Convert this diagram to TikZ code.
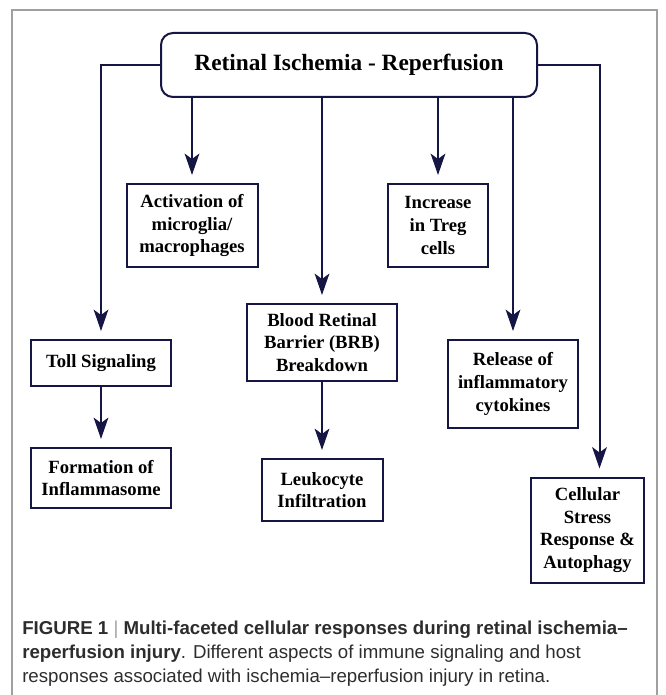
\documentclass[tikz,border=0pt]{standalone}
\usepackage{fontspec}
\setmainfont{Liberation Serif}
\newfontfamily\capfont{Liberation Sans}
\usetikzlibrary{arrows.meta}
\definecolor{navy}{RGB}{22,22,68}
\definecolor{framegray}{RGB}{160,160,160}
\definecolor{captext}{RGB}{45,45,45}
\tikzset{
    box/.style={draw=navy,line width=1.5pt,align=center,inner sep=0pt,
        font=\bfseries\fontsize{14}{17}\selectfont},
    link/.style={draw=navy,line width=1.5pt,
        -{Stealth[length=16pt,width=11pt,inset=4pt]},shorten >=6pt},
    capline/.style={anchor=base west,inner sep=0pt,text=captext,
        font=\capfont\fontsize{14}{17}\selectfont}
}
\begin{document}
\begin{tikzpicture}[x=0.75pt,y=-0.75pt]
    \useasboundingbox (0,0) rectangle (665,695);
    \draw[framegray,line width=1.1pt] (12,695) -- (12,10) -- (657,10) -- (657,695);
    % boxes
    \node[box,rounded corners=9pt,minimum width=376*0.75pt,minimum height=64*0.75pt,
        font=\bfseries\fontsize{17.5}{21}\selectfont] (root) at (349,65) {Retinal Ischemia - Reperfusion};
    \node[box,minimum width=131*0.75pt,minimum height=83*0.75pt] (act) at (192,225.5) {Activation of\\microglia/\\macrophages};
    \node[box,minimum width=100*0.75pt,minimum height=83*0.75pt] (treg) at (438,225.5) {Increase\\in Treg\\cells};
    \node[box,minimum width=150*0.75pt,minimum height=77*0.75pt] (brb) at (322,342.5) {Blood Retinal\\Barrier (BRB)\\Breakdown};
    \node[box,minimum width=130*0.75pt,minimum height=88*0.75pt] (rel) at (513,384) {Release of\\inflammatory\\cytokines};
    \node[box,minimum width=140*0.75pt,minimum height=46*0.75pt] (toll) at (101,363) {Toll Signaling};
    \node[box,minimum width=140*0.75pt,minimum height=60*0.75pt] (form) at (101,478) {Formation of\\Inflammasome};
    \node[box,minimum width=121*0.75pt,minimum height=62*0.75pt] (leuk) at (322,490) {Leukocyte\\Infiltration};
    \node[box,minimum width=113*0.75pt,minimum height=105*0.75pt] (cell) at (587.5,530) {Cellular\\Stress\\Response \&\\Autophagy};
    % connectors
    \draw[link] (root.west) -| (toll.north);
    \draw[link] (root.east) -| ([xshift=9pt]cell.north);
    \foreach \n in {act,treg,brb,rel} {
        \draw[link] (root.south -| \n.north) -- (\n.north);
    }
    \draw[link] (toll.south) -- (form.north);
    \draw[link] (brb.south) -- (leuk.north);
    % caption
    \node[capline] (cap1) at (22,634) {\textbf{FIGURE 1} {\color{framegray}|} \textbf{Multi-faceted cellular responses during retinal ischemia–}};
    \node[capline] (cap2) at (22,658) {\textbf{reperfusion injury}. Different aspects of immune signaling and host};
    \node[capline] (cap3) at (22,682) {responses associated with ischemia–reperfusion injury in retina.};
\end{tikzpicture}
\end{document}
